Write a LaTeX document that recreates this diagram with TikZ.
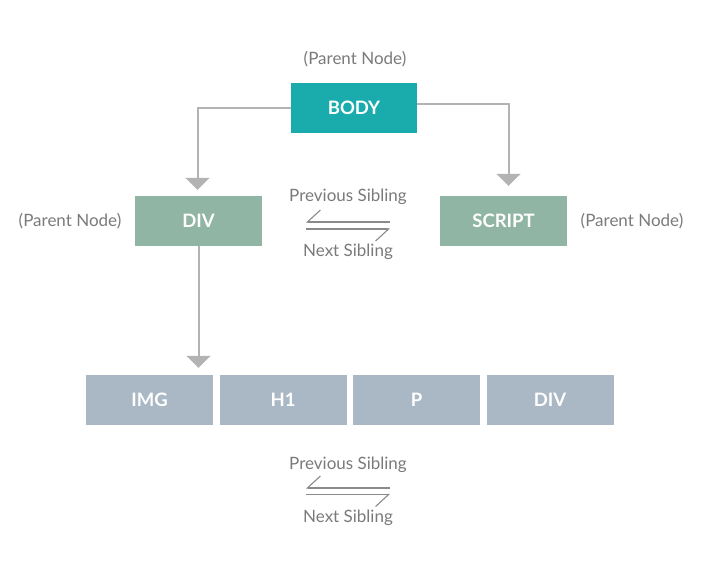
\documentclass[tikz,border=0pt]{standalone}
\usepackage{fontspec}
\setmainfont{Lato}
\usepackage{xcolor}
\usepackage{tikz}
\usetikzlibrary{arrows.meta}

\definecolor{bodyteal}{HTML}{1AACAC}
\definecolor{parentgreen}{HTML}{91B5A5}
\definecolor{childblue}{HTML}{AAB7C4}
\definecolor{linkgray}{HTML}{B3B3B3}
\definecolor{labelgray}{HTML}{7A7A7A}
\definecolor{sibgray}{HTML}{8A8A8A}

\begin{document}
\begin{tikzpicture}[x=1pt, y=1pt,
    box/.style={minimum width=127pt, minimum height=50pt, inner sep=0pt,
      text=white, font=\fontsize{18.5}{20}\selectfont\bfseries},
    note/.style={text=labelgray, font=\fontsize{17}{20}\selectfont},
    link/.style={draw=linkgray, line width=2pt,
      -{Triangle[width=24pt, length=12pt]}},
    sib/.style={draw=sibgray, line width=1.1pt,
      -{Straight Barb[right, length=13pt, width=24pt, line width=1.1pt]}}]
      \useasboundingbox (0, 0) rectangle (712, -579);

      \node[box, fill=bodyteal, minimum width=126pt] (1) at (354, -108){BODY};
      \node[box, fill=parentgreen] (2) at (198.5, -221){DIV};
      \node[box, fill=parentgreen] (3) at (503.5, -221){SCRIPT};
      \node[box, fill=childblue] (4) at (149.5, -400){IMG};
      \node[box, fill=childblue] (5) at (283, -400){H1};
      \node[box, fill=childblue] (6) at (416.5, -400){P};
      \node[box, fill=childblue] (7) at (550, -400){DIV};

      \node[note] (8) at (355, -59){(Parent Node)};
      \node[note] (9) at (70, -221){(Parent Node)};
      \node[note] (10) at (632, -221){(Parent Node)};
      \node[note] (11) at (348, -197){Previous Sibling};
      \node[note] (12) at (348, -252){Next Sibling};
      \node[note] (13) at (348, -465){Previous Sibling};
      \node[note] (14) at (348, -518){Next Sibling};

      \coordinate (a1) at (306, -222);
      \coordinate (a2) at (390, -222);
      \coordinate (a3) at (306, -229);
      \coordinate (a4) at (390, -229);
      \coordinate (b1) at (306, -488);
      \coordinate (b2) at (390, -488);
      \coordinate (b3) at (306, -494.5);
      \coordinate (b4) at (390, -494.5);

      \draw[link, shorten >=6pt] (1.west) -| ([xshift=-1pt]2.north);
      \draw[link, shorten >=10pt] ([yshift=4pt]1.east) -| ([xshift=5pt]3.north);
      \draw[link, shorten >=7pt] (2.south) -- (2.south |- 4.north);

      \draw[sib] (a2) -- (a1);
      \draw[sib] (a3) -- (a4);
      \draw[sib] (b2) -- (b1);
      \draw[sib] (b3) -- (b4);
    \end{tikzpicture}
\end{document}
